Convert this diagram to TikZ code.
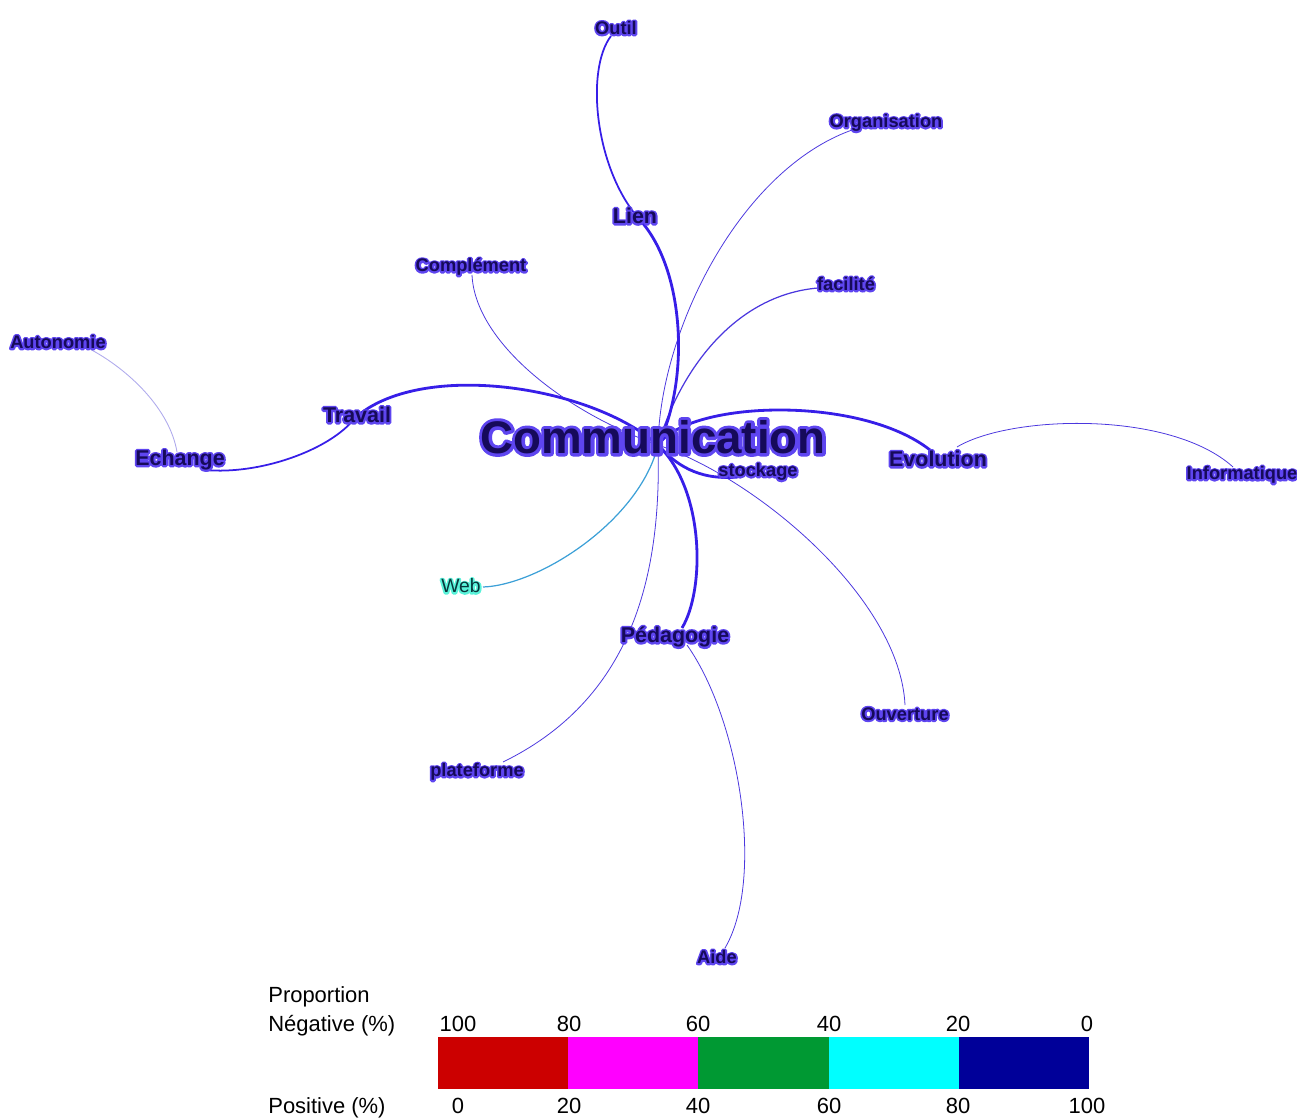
\documentclass[tikz,border=0pt]{standalone}
\usepackage{fontspec}
\setmainfont{Liberation Sans}
\definecolor{labtext}{RGB}{22,10,90}
\definecolor{edgeA}{RGB}{55,30,232}
\definecolor{edgeB}{RGB}{75,55,222}
\definecolor{edgeC}{RGB}{175,170,236}
\definecolor{webedge}{RGB}{60,160,215}
\definecolor{webtext}{RGB}{8,55,60}
\definecolor{legred}{RGB}{204,0,0}
\definecolor{legmag}{RGB}{255,0,255}
\definecolor{leggreen}{RGB}{0,153,51}
\definecolor{legcyan}{RGB}{0,255,255}
\definecolor{legnavy}{RGB}{0,0,153}
% text with a glow: a stroked copy underneath, the filled text on top
\newcommand{\halotext}[3]{\rlap{\special{pdf:literal direct 1 Tr #1 w 1 j 1 J #2 RG}#3\special{pdf:literal direct 0 Tr}}#3}
\newcommand{\bluehalo}[2]{\halotext{#1}{0.37 0.27 0.94}{#2}}
\tikzset{
  commlabel/.style={font=\bfseries\fontsize{26}{30}\selectfont, text=labtext, inner sep=0pt},
  biglabel/.style={font=\bfseries\fontsize{12.2}{14}\selectfont, text=labtext, inner sep=0pt},
  smalllabel/.style={font=\bfseries\fontsize{10.4}{12}\selectfont, text=labtext, inner sep=0pt},
  weblabel/.style={font=\fontsize{11}{13}\selectfont, text=webtext, inner sep=0pt},
  thickedge/.style={draw=edgeA, line width=1.6pt},
  midedge/.style={draw=edgeA, line width=1.0pt},
  midthinedge/.style={draw=edgeB, line width=0.7pt},
  thinedge/.style={draw=edgeB, line width=0.45pt},
  faintedge/.style={draw=edgeC, line width=0.5pt},
  webline/.style={draw=webedge, line width=0.7pt},
  legendtext/.style={font=\fontsize{12.5}{15}\selectfont, text=black, inner sep=0pt},
}
\begin{document}
\begin{tikzpicture}[x=0.02cm, y=-0.02cm]
\useasboundingbox (0,0) rectangle (1297,1118);
% attach points
\coordinate (hub) at (658,445);
\coordinate (lienP) at (640,220);
\coordinate (outilP) at (611,36);
\coordinate (orgP) at (852,130);
\coordinate (facP) at (818,288);
\coordinate (compP) at (472,275);
\coordinate (travP) at (355,418);
\coordinate (echP) at (205,470);
\coordinate (echQ) at (177,452);
\coordinate (autoP) at (88,348);
\coordinate (evoP) at (930,450);
\coordinate (evoQ) at (957,447);
\coordinate (infoP) at (1233,467);
\coordinate (stockP) at (738,477);
\coordinate (ouvP) at (905,705);
\coordinate (webP) at (483,587);
\coordinate (pedP) at (682,628);
\coordinate (pedQ) at (687,645);
\coordinate (platP) at (503,762);
\coordinate (aideP) at (725,948);
% edges
\draw[faintedge] (echQ) .. controls (170,410) and (130,370) .. (autoP);
\draw[thinedge] (hub) .. controls (660,330) and (740,170) .. (orgP);
\draw[thinedge] (compP) .. controls (475,340) and (560,410) .. (hub);
\draw[thinedge] (evoQ) .. controls (1010,415) and (1170,410) .. (infoP);
\draw[thinedge] (hub) .. controls (760,480) and (900,600) .. (ouvP);
\draw[thinedge] (hub) .. controls (662,580) and (630,700) .. (platP);
\draw[thinedge] (pedQ) .. controls (740,720) and (765,880) .. (aideP);
\draw[webline] (hub) .. controls (640,520) and (540,585) .. (webP);
\draw[midthinedge] (hub) .. controls (680,370) and (735,295) .. (facP);
\draw[midedge] (lienP) .. controls (595,170) and (585,70) .. (outilP);
\draw[midedge] (travP) .. controls (330,450) and (260,475) .. (echP);
\draw[thickedge] (hub) .. controls (690,380) and (685,270) .. (lienP);
\draw[thickedge] (hub) .. controls (590,385) and (420,360) .. (travP);
\draw[thickedge] (hub) .. controls (690,400) and (860,395) .. (evoP);
\draw[thickedge] (hub) .. controls (680,470) and (705,480) .. (stockP);
\draw[thickedge] (hub) .. controls (705,490) and (705,590) .. (pedP);
% labels
\node[commlabel] (communication) at (653,437) {\bluehalo{3.6}{Communication}};
\node[smalllabel] (outil) at (616,28) {\bluehalo{2.0}{Outil}};
\node[smalllabel] (organisation) at (886,123) {\bluehalo{2.0}{Organisation}};
\node[biglabel] (lien) at (635,216) {\bluehalo{2.2}{Lien}};
\node[smalllabel] (complement) at (471,267) {\bluehalo{2.0}{Complément}};
\node[smalllabel] (facilite) at (846,284) {\bluehalo{2.0}{facilité}};
\node[smalllabel] (autonomie) at (58,342) {\bluehalo{2.0}{Autonomie}};
\node[biglabel] (travail) at (357,415) {\bluehalo{2.2}{Travail}};
\node[biglabel] (echange) at (180,460) {\bluehalo{2.2}{Echange}};
\node[smalllabel] (stockage) at (758,472) {\bluehalo{2.0}{stockage}};
\node[biglabel] (evolution) at (938,459) {\bluehalo{2.2}{Evolution}};
\node[smalllabel] (informatique) at (1242,475) {\bluehalo{2.0}{Informatique}};
\node[weblabel] (web) at (461,586) {\halotext{2.0}{0.35 0.95 0.85}{Web}};
\node[biglabel] (pedagogie) at (675,637) {\bluehalo{2.2}{Pédagogie}};
\node[smalllabel] (ouverture) at (905,714) {\bluehalo{2.0}{Ouverture}};
\node[smalllabel] (plateforme) at (477,772) {\bluehalo{2.0}{plateforme}};
\node[smalllabel] (aide) at (717,957) {\bluehalo{2.0}{Aide}};
% legend
\node[legendtext, anchor=base west] (proportion) at (268,1002) {Proportion};
\node[legendtext, anchor=base west] (negative) at (268,1031) {Négative (\%)};
\node[legendtext, anchor=base west] (positive) at (268,1113) {Positive (\%)};
\fill[legred] (438,1037) rectangle (568,1089);
\fill[legmag] (568,1037) rectangle (698,1089);
\fill[leggreen] (698,1037) rectangle (829,1089);
\fill[legcyan] (829,1037) rectangle (959,1089);
\fill[legnavy] (959,1037) rectangle (1089,1089);
\foreach \xx/\tt [count=\i] in {458/100, 569/80, 698/60, 829/40, 958/20, 1087/0}
  \node[legendtext, anchor=base] (neg\i) at (\xx,1031) {\tt};
\foreach \xx/\tt [count=\i] in {458/0, 569/20, 698/40, 829/60, 958/80, 1087/100}
  \node[legendtext, anchor=base] (pos\i) at (\xx,1113) {\tt};
\end{tikzpicture}
\end{document}
